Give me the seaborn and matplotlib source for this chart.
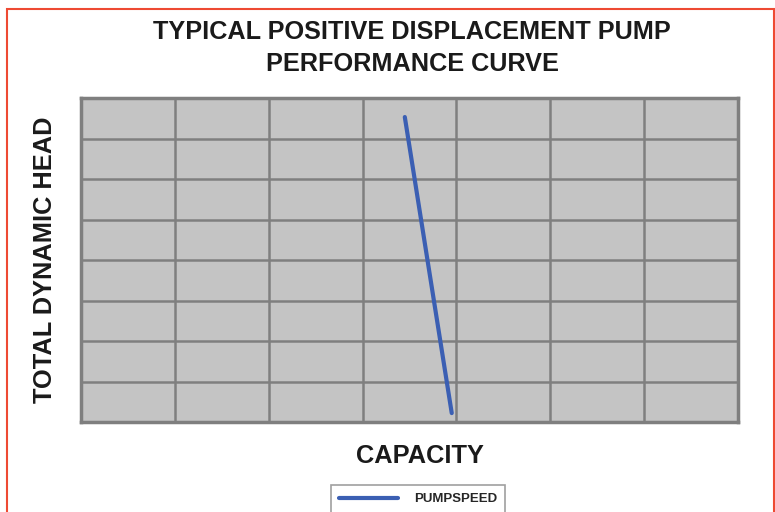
import matplotlib
matplotlib.use("Agg")
import matplotlib.pyplot as plt
import seaborn as sns
import pandas as pd
from matplotlib.patches import Rectangle

# Data
capacity = [3.45, 3.95]
head = [7.53, 0.22]
series_name = "PUMPSPEED"
title = "TYPICAL POSITIVE DISPLACEMENT PUMP\nPERFORMANCE CURVE"
xlabel = "CAPACITY"
ylabel = "TOTAL DYNAMIC HEAD"

sns.set_theme(style="white")
plt.rcParams['font.family'] = ['Liberation Sans', 'DejaVu Sans']

df = pd.DataFrame({"capacity": capacity, "head": head, "series": series_name})

fig = plt.figure(figsize=(7.75, 5.12), dpi=100)
ax = fig.add_axes([81/775, 1 - 422/512, (738-81)/775, (422-98)/512])
ax.set_facecolor("#c4c4c4")

sns.lineplot(data=df, x="capacity", y="head", hue="series", palette=["#3b5fb3"],
             linewidth=3, ax=ax, sort=False, legend=True)

ax.set_xlim(0, 7)
ax.set_ylim(0, 8)
ax.set_xticks(range(0, 8))
ax.set_yticks(range(0, 9))
ax.tick_params(left=False, bottom=False, labelleft=False, labelbottom=False)
ax.grid(True, color="#7f7f7f", linewidth=1.8)
ax.set_axisbelow(True)
for s in ax.spines.values():
    s.set_color("#7f7f7f")
    s.set_linewidth(2.5)

ax.set_xlabel("")
ax.set_ylabel("")
fig.text(420/775, 1 - 456/512, xlabel, ha="center", va="center",
         fontsize=18.3, fontweight="bold", color="#1a1a1a")
fig.text(45/775, 1 - 260/512, ylabel, ha="center", va="center", rotation=90,
         fontsize=18.3, fontweight="bold", color="#1a1a1a")
fig.text(412/775, 1 - 48/512, title, ha="center", va="center",
         fontsize=18.2, fontweight="bold", color="#1a1a1a", linespacing=1.38)

leg = ax.legend(loc="center", bbox_to_anchor=(418/775, 1 - 499/512),
                bbox_transform=fig.transFigure, frameon=True, fancybox=False,
                prop={"weight": "bold", "size": 9.5}, handlelength=4.5,
                borderpad=0.6, handletextpad=1.2)
leg.get_frame().set_edgecolor("#888888")
leg.get_frame().set_linewidth(1.2)

fig.patches.append(Rectangle((7/775, -0.05), (774-7)/775, 1 - 9/512 + 0.05,
                             transform=fig.transFigure, fill=False,
                             edgecolor="#ee4a33", linewidth=1.5, zorder=10))

fig.savefig("out.png", dpi=100)
